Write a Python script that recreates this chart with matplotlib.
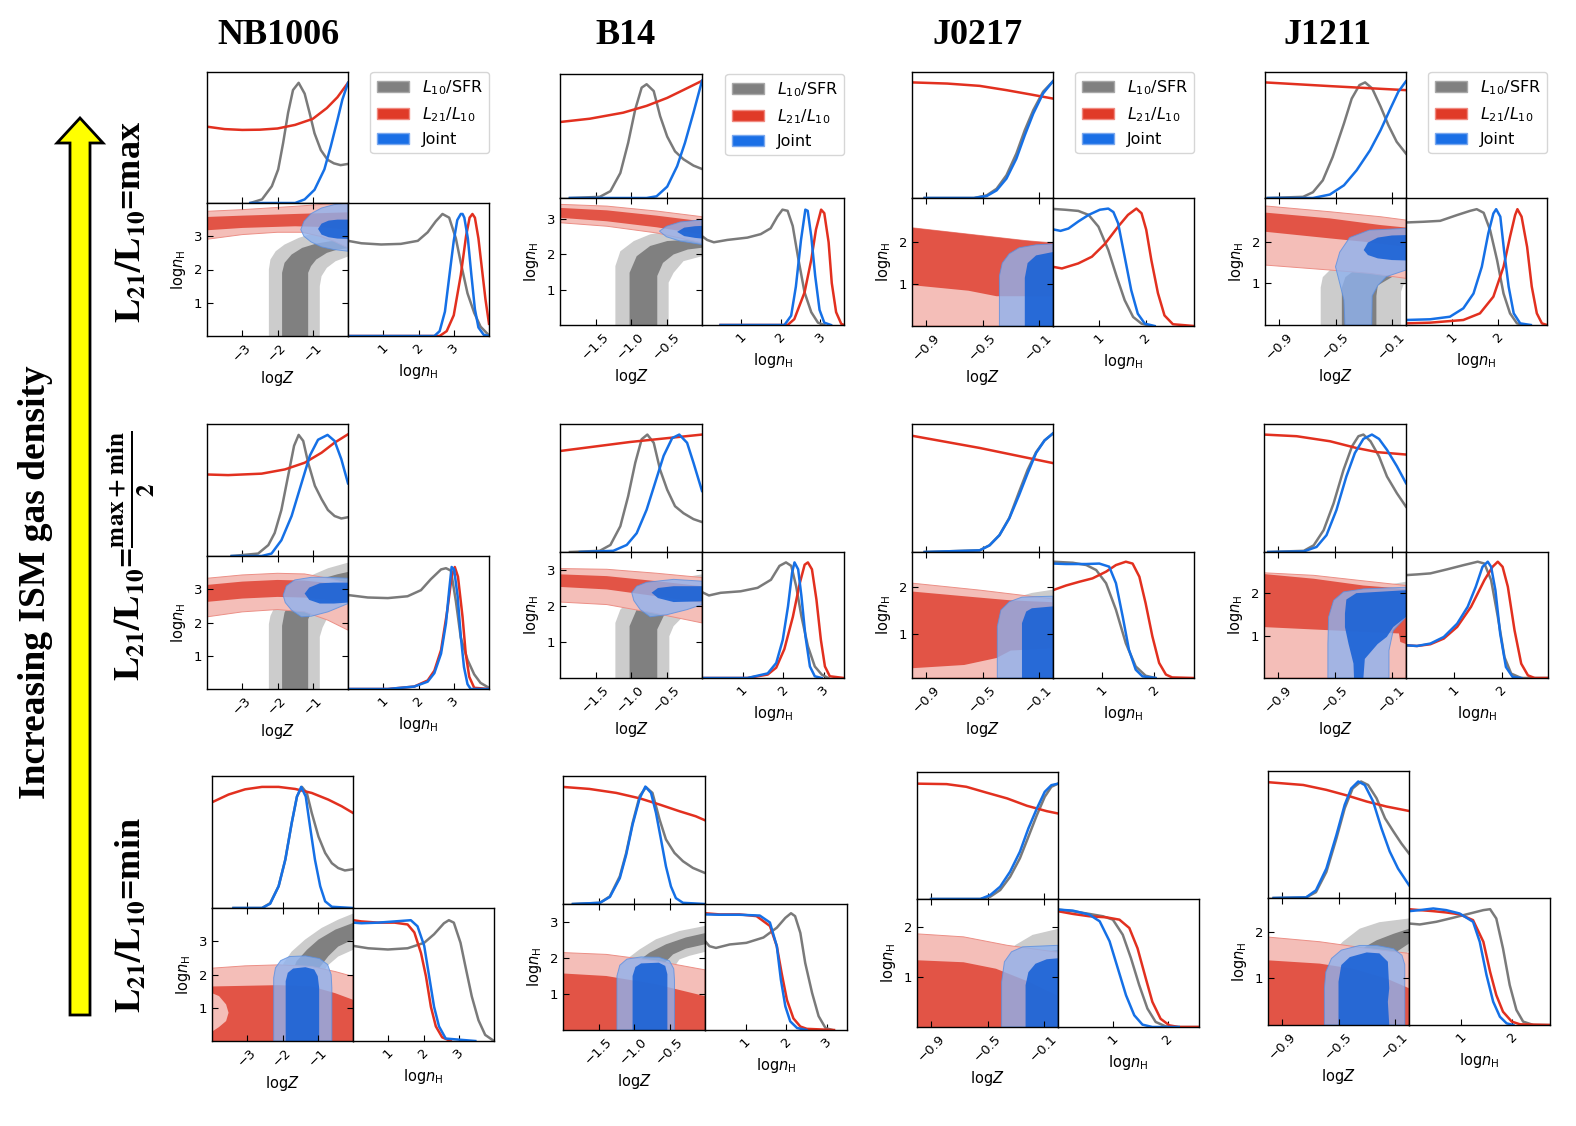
import matplotlib.pyplot as plt
from matplotlib.patches import Patch, FancyArrow

# ---------------- text ----------------
galaxies = ['NB1006', 'B14', 'J0217', 'J1211']
row_labels = [r'$\mathbf{L_{21}/L_{10}}$=max',
              r'$\mathbf{L_{21}/L_{10}}$=$\mathbf{\frac{max+min}{2}}$',
              r'$\mathbf{L_{21}/L_{10}}$=min']
legend_labels = ['$L_{10}$/SFR', '$L_{21}/L_{10}$', 'Joint']
side_text = 'Increasing ISM gas density'

# ---------------- axis ranges / ticks ----------------
z_lims = [(-4, 0), (-2, 0), (-1, 0), (-1, 0)]
z_ticks = [[-3, -2, -1], [-1.5, -1.0, -0.5], [-0.9, -0.5, -0.1], [-0.9, -0.5, -0.1]]
z_ticklabels = [['−3', '−2', '−1'], ['−1.5', '−1.0', '−0.5'],
                ['−0.9', '−0.5', '−0.1'], ['−0.9', '−0.5', '−0.1']]
n_ticks = [[1, 2, 3], [1, 2, 3], [1, 2], [1, 2]]
n_lims = [[(0, 4), (0, 3.6), (0.02, 3.03), (0, 3.05)],
          [(0, 4), (0, 3.5), (0.05, 2.76), (0, 2.97)],
          [(0, 4), (0, 3.5), (0, 2.57), (0, 2.73)]]

# ================= NB1006 =================
# max
nb_hi_zgray = [(-2.77,0),(-2.44,0.03),(-2.16,0.14),(-1.98,0.28),(-1.84,0.5),(-1.7,0.75),(-1.56,0.94),(-1.4,1.0),(-1.23,0.91),(-1.09,0.75),(-0.95,0.58),(-0.77,0.44),(-0.58,0.36),(-0.4,0.33),(-0.21,0.315),(0,0.325)]
nb_hi_zred = [(-4,0.635),(-3.5,0.615),(-3,0.608),(-2.5,0.61),(-2,0.62),(-1.5,0.65),(-1,0.70),(-0.6,0.79),(-0.3,0.88),(0,1.0)]
nb_hi_zblue = [(-2.77,0),(-1.5,0),(-1.23,0.03),(-0.95,0.11),(-0.67,0.28),(-0.49,0.47),(-0.3,0.69),(-0.16,0.86),(0,1.0)]
nb_hi_ngray = [(0,0.78),(0.38,0.76),(0.94,0.75),(1.5,0.755),(1.98,0.78),(2.26,0.85),(2.49,0.94),(2.68,1.0),(2.87,0.97),(3.06,0.8),(3.2,0.6),(3.39,0.35),(3.58,0.19),(3.76,0.077),(4.0,0.005)]
nb_hi_nred = [(0,0),(2.6,0),(2.8,0.04),(3.0,0.17),(3.2,0.5),(3.35,0.82),(3.45,0.97),(3.53,1.0),(3.6,0.97),(3.7,0.8),(3.8,0.55),(3.9,0.3),(4.0,0.1)]
nb_hi_nblue = [(0,0),(2.45,0),(2.6,0.04),(2.75,0.2),(2.9,0.55),(3.0,0.78),(3.1,0.95),(3.2,1.0),(3.25,1.0),(3.3,0.97),(3.4,0.8),(3.5,0.5),(3.6,0.22),(3.7,0.07),(3.85,0.01),(4.0,0)]
nb_hi_gray2 = [(-2.245,0),(-2.245,2.0),(-2.2,2.3),(-2.05,2.55),(-1.8,2.75),(-1.4,2.95),(-1.1,3.05),(-0.7,3.12),(-0.3,3.17),(0,3.2),(0,2.39),(-0.1,2.35),(-0.35,2.25),(-0.6,2.05),(-0.75,1.8),(-0.8,1.5),(-0.8,0)]
nb_hi_gray1 = [(-1.87,0),(-1.87,1.9),(-1.8,2.2),(-1.6,2.45),(-1.3,2.65),(-0.9,2.78),(-0.5,2.85),(0,2.88),(0,2.64),(-0.3,2.6),(-0.6,2.5),(-0.9,2.3),(-1.05,2.1),(-1.13,1.9),(-1.13,0)]
nb_hi_red2 = [(-4,3.75),(-3,3.8),(-1.5,3.9),(-0.57,3.97),(0,4.0),(0,2.65),(-0.4,2.85),(-0.8,3.0),(-1.3,3.12),(-2,3.12),(-3,3.05),(-4,2.91)]
nb_hi_red1 = [(-4,3.58),(-3,3.62),(-1.5,3.67),(0,3.72),(0,3.2),(-0.8,3.28),(-1.5,3.3),(-3,3.25),(-4,3.18)]
nb_hi_blue2 = [(-1.34,3.2),(-1.25,3.45),(-1.05,3.68),(-0.75,3.85),(-0.4,3.95),(0,4.0),(0,2.55),(-0.4,2.6),(-0.75,2.68),(-1.05,2.83),(-1.25,3.0)]
nb_hi_blue1 = [(-0.85,3.22),(-0.75,3.38),(-0.55,3.47),(-0.3,3.5),(0,3.5),(0,2.92),(-0.3,2.93),(-0.55,2.97),(-0.75,3.05)]
# (max+min)/2
nb_mid_zgray = [(-3.3,0),(-2.55,0.02),(-2.26,0.09),(-2.08,0.19),(-1.89,0.38),(-1.7,0.66),(-1.53,0.91),(-1.4,1.0),(-1.27,0.95),(-1.13,0.77),(-0.94,0.58),(-0.75,0.47),(-0.57,0.38),(-0.38,0.33),(-0.19,0.31),(0,0.32)]
nb_mid_zred = [(-4,0.673),(-3.4,0.668),(-2.45,0.68),(-1.79,0.715),(-1.23,0.77),(-0.75,0.853),(-0.38,0.936),(0,1.005)]
nb_mid_zblue = [(-3.3,0),(-2.45,0),(-2.17,0.02),(-1.89,0.13),(-1.6,0.33),(-1.32,0.6),(-1.08,0.83),(-0.85,0.96),(-0.58,1.0),(-0.38,0.95),(-0.19,0.8),(0,0.6)]
nb_mid_ngray = [(0,0.77),(0.56,0.75),(1.13,0.745),(1.69,0.76),(2.07,0.81),(2.35,0.9),(2.64,0.98),(2.78,0.99),(2.92,0.97),(3.06,0.72),(3.2,0.42),(3.39,0.24),(3.58,0.12),(3.76,0.05),(4.0,0.01)]
nb_mid_nred = [(0,0),(1.13,0),(1.88,0.02),(2.26,0.07),(2.45,0.15),(2.64,0.32),(2.82,0.65),(2.94,0.92),(3.03,1.0),(3.12,0.92),(3.25,0.59),(3.34,0.29),(3.44,0.1),(3.58,0.01),(4.0,0)]
nb_mid_nblue = [(0,0),(1.13,0),(1.88,0.02),(2.26,0.06),(2.45,0.13),(2.64,0.29),(2.78,0.54),(2.87,0.81),(2.94,1.0),(3.01,0.98),(3.11,0.76),(3.2,0.43),(3.29,0.18),(3.39,0.04),(3.48,0),(4.0,0)]
nb_mid_gray2 = [(-2.245,0),(-2.245,1.95),(-2.2,2.2),(-2.08,2.47),(-1.9,2.72),(-1.7,2.97),(-1.23,3.33),(-0.57,3.63),(0,3.8),(0,2.62),(-0.28,2.47),(-0.57,2.17),(-0.72,1.85),(-0.8,1.57),(-0.8,0)]
nb_mid_gray1 = [(-1.87,0),(-1.87,1.9),(-1.8,2.3),(-1.6,2.7),(-1.3,3.0),(-0.8,3.3),(-0.3,3.45),(0,3.52),(0,3.2),(-0.57,3.0),(-0.95,2.5),(-1.13,2.1),(-1.13,0)]
nb_mid_red2 = [(-4,3.33),(-3,3.43),(-2,3.48),(-1.23,3.46),(-0.57,3.33),(0,3.18),(0,1.77),(-0.57,2.07),(-1.23,2.32),(-2,2.39),(-3,2.32),(-4,2.17)]
nb_mid_red1 = [(-4,3.13),(-3,3.23),(-2,3.28),(-1.23,3.26),(0,3.13),(0,2.62),(-1.23,2.75),(-2,2.77),(-3,2.72),(-4,2.62)]
nb_mid_blue2 = [(-1.84,2.82),(-1.75,3.1),(-1.51,3.28),(-1.04,3.36),(-0.57,3.36),(0,3.33),(0,2.57),(-0.57,2.32),(-1.04,2.19),(-1.32,2.17),(-1.6,2.37),(-1.78,2.6)]
nb_mid_blue1 = [(-1.23,2.87),(-1.1,3.05),(-0.8,3.18),(-0.4,3.2),(0,3.2),(0,2.6),(-0.4,2.57),(-0.8,2.57),(-1.1,2.68)]
# min
nb_lo_zgray = [(-3.39,0),(-2.58,0),(-2.35,0.04),(-2.11,0.18),(-1.92,0.4),(-1.74,0.7),(-1.59,0.92),(-1.45,1.0),(-1.31,0.95),(-1.17,0.785),(-0.98,0.59),(-0.79,0.455),(-0.6,0.37),(-0.42,0.33),(-0.23,0.31),(0,0.32)]
nb_lo_zred = [(-4,0.873),(-3.53,0.937),(-3.06,0.98),(-2.58,1.0),(-2.11,1.0),(-1.64,0.983),(-1.17,0.95),(-0.7,0.895),(-0.32,0.84),(0,0.785)]
nb_lo_zblue = [(-3.39,0),(-2.58,0),(-2.35,0.035),(-2.11,0.18),(-1.92,0.4),(-1.74,0.7),(-1.59,0.92),(-1.47,1.0),(-1.34,0.92),(-1.22,0.675),(-1.08,0.4),(-0.93,0.18),(-0.79,0.055),(-0.6,0.01),(0,0)]
nb_lo_ngray = [(0,0.78),(0.43,0.76),(0.99,0.75),(1.55,0.76),(2.02,0.805),(2.3,0.875),(2.58,0.965),(2.72,0.99),(2.86,0.97),(3.05,0.805),(3.19,0.61),(3.37,0.365),(3.56,0.17),(3.75,0.05),(4.0,0)]
nb_lo_nred = [(0,0.99),(0.24,0.98),(0.71,0.97),(1.18,0.97),(1.55,0.955),(1.74,0.89),(1.93,0.72),(2.07,0.53),(2.21,0.28),(2.35,0.12),(2.53,0.03),(2.77,0)]
nb_lo_nblue = [(0,0.97),(0.24,0.965),(0.71,0.97),(1.18,0.98),(1.64,0.99),(1.83,0.94),(2.02,0.78),(2.16,0.53),(2.3,0.28),(2.44,0.12),(2.63,0.02),(3.47,0)]
nb_lo_gray2 = [(-2.05,0),(-2.05,2.0),(-1.97,2.34),(-1.74,2.69),(-1.36,3.05),(-0.89,3.4),(-0.42,3.65),(0,3.83),(0,2.74),(-0.42,2.54),(-0.75,2.24),(-0.9,1.9),(-0.95,1.5),(-0.95,0)]
nb_lo_gray1 = [(-1.75,0),(-1.75,2.0),(-1.6,2.4),(-1.3,2.75),(-0.98,3.05),(-0.5,3.35),(0,3.55),(0,3.05),(-0.42,2.84),(-0.7,2.55),(-1.1,2.0),(-1.2,1.5),(-1.2,0)]
nb_lo_red2 = [(-4,0),(-4,2.19),(-3.06,2.26),(-2.11,2.29),(-1.17,2.24),(-0.51,2.09),(0,1.94),(0,0)]
nb_lo_red1 = [(-4,0),(-4,0.28),(-3.8,0.42),(-3.6,0.6),(-3.53,0.85),(-3.6,1.1),(-3.8,1.35),(-4,1.44),(-4,1.64),(-3.06,1.66),(-2.11,1.68),(-1.17,1.64),(-0.51,1.44),(0,1.24),(0,0)]
nb_lo_blue2 = [(-2.25,0),(-2.25,1.9),(-2.2,2.2),(-2.05,2.42),(-1.8,2.54),(-1.35,2.56),(-0.95,2.48),(-0.72,2.3),(-0.62,2.0),(-0.6,1.6),(-0.6,0)]
nb_lo_blue1 = [(-1.91,0),(-1.91,1.8),(-1.85,2.05),(-1.7,2.18),(-1.35,2.22),(-1.1,2.15),(-1.0,1.95),(-0.96,1.6),(-0.96,0)]

# ================= B14 =================
b14_hi_zgray = [(-1.86,0),(-1.44,0.01),(-1.29,0.06),(-1.15,0.22),(-1.04,0.485),(-0.94,0.78),(-0.85,0.97),(-0.78,1.0),(-0.68,0.94),(-0.59,0.72),(-0.49,0.54),(-0.38,0.41),(-0.26,0.34),(-0.12,0.285),(0,0.255)]
b14_hi_zred = [(-2,0.668),(-1.58,0.697),(-1.11,0.75),(-0.78,0.81),(-0.49,0.88),(-0.26,0.95),(0,1.03)]
b14_hi_zblue = [(-1.86,0),(-0.78,0),(-0.64,0.015),(-0.49,0.1),(-0.35,0.28),(-0.24,0.485),(-0.12,0.75),(0,1.03)]
b14_hi_ngray = [(0,0.763),(0.13,0.73),(0.3,0.71),(0.64,0.73),(1.15,0.75),(1.49,0.78),(1.74,0.83),(1.91,0.93),(2.04,0.99),(2.17,0.98),(2.3,0.85),(2.43,0.59),(2.6,0.28),(2.77,0.11),(2.94,0.02),(3.1,0)]
b14_hi_nred = [(0.47,0),(2.17,0),(2.34,0.05),(2.6,0.28),(2.77,0.56),(2.89,0.82),(3.02,0.99),(3.1,0.96),(3.21,0.71),(3.29,0.36),(3.4,0.11),(3.53,0.01),(3.6,0)]
b14_hi_nblue = [(0.47,0),(2.09,0),(2.26,0.08),(2.38,0.33),(2.51,0.73),(2.62,0.99),(2.68,0.98),(2.77,0.76),(2.87,0.42),(2.98,0.13),(3.1,0.02),(3.27,0)]
b14_hi_gray2 = [(-1.22,0),(-1.22,1.67),(-1.15,2.09),(-0.96,2.38),(-0.73,2.57),(-0.49,2.66),(0,2.72),(0,1.95),(-0.26,1.81),(-0.4,1.48),(-0.47,1.2),(-0.47,0)]
b14_hi_gray1 = [(-1.02,0),(-1.02,1.48),(-0.92,1.95),(-0.73,2.24),(-0.49,2.38),(0,2.44),(0,2.19),(-0.2,2.14),(-0.4,2.0),(-0.55,1.76),(-0.63,1.39),(-0.63,0)]
b14_hi_red2 = [(-2,3.42),(-1.34,3.37),(-0.64,3.23),(0,3.07),(0,2.33),(-0.64,2.61),(-1.34,2.8),(-2,2.9)]
b14_hi_red1 = [(-2,3.32),(-1.34,3.25),(-0.64,3.1),(0,2.94),(0,2.57),(-0.64,2.77),(-1.34,2.94),(-2,3.04)]
b14_hi_blue2 = [(-0.6,2.66),(-0.5,2.8),(-0.31,2.92),(0,2.98),(0,2.28),(-0.31,2.38),(-0.5,2.5)]
b14_hi_blue1 = [(-0.35,2.64),(-0.25,2.76),(-0.1,2.8),(0,2.81),(0,2.45),(-0.1,2.47),(-0.25,2.52)]

b14_mid_zgray = [(-1.86,0),(-1.44,0.01),(-1.29,0.06),(-1.15,0.22),(-1.04,0.475),(-0.94,0.76),(-0.85,0.96),(-0.77,1.0),(-0.68,0.93),(-0.59,0.7),(-0.49,0.53),(-0.38,0.39),(-0.26,0.33),(-0.12,0.28),(0,0.255)]
b14_mid_zred = [(-2,0.86),(-1.01,0.937),(0,1.0)]
b14_mid_zblue = [(-1.72,0),(-1.25,0.01),(-1.06,0.06),(-0.92,0.16),(-0.78,0.36),(-0.66,0.59),(-0.54,0.82),(-0.42,0.97),(-0.32,1.0),(-0.21,0.93),(-0.12,0.76),(-0.05,0.62),(0,0.52)]
b14_mid_ngray = [(0,0.743),(0.17,0.714),(0.46,0.737),(0.95,0.75),(1.37,0.78),(1.7,0.85),(1.91,0.97),(2.07,1.0),(2.2,0.97),(2.32,0.795),(2.45,0.535),(2.61,0.275),(2.78,0.1),(2.95,0.03),(3.11,0)]
b14_mid_nred = [(0,0),(1.12,0),(1.62,0.03),(1.83,0.09),(2.03,0.25),(2.24,0.53),(2.41,0.82),(2.53,0.98),(2.61,1.0),(2.71,0.94),(2.82,0.68),(2.93,0.33),(3.03,0.1),(3.15,0.015),(3.5,0)]
b14_mid_nblue = [(0,0),(1.12,0),(1.62,0.04),(1.83,0.13),(1.99,0.33),(2.12,0.62),(2.22,0.91),(2.28,1.0),(2.37,0.94),(2.45,0.71),(2.55,0.36),(2.66,0.1),(2.78,0.015),(2.95,0)]
b14_mid_gray2 = [(-1.22,0),(-1.22,1.53),(-1.15,1.9),(-0.96,2.27),(-0.73,2.55),(-0.4,2.74),(0,2.88),(0,1.86),(-0.26,1.72),(-0.4,1.44),(-0.46,1.16),(-0.46,0)]
b14_mid_gray1 = [(-1.02,0),(-1.02,1.44),(-0.92,1.9),(-0.73,2.18),(-0.4,2.41),(0,2.55),(0,2.11),(-0.21,2.04),(-0.4,1.9),(-0.54,1.72),(-0.63,1.35),(-0.63,0)]
b14_mid_red2 = [(-2,3.04),(-1.34,3.02),(-0.64,2.91),(0,2.79),(0,1.53),(-0.64,1.79),(-1.34,2.04),(-2,2.11)]
b14_mid_red1 = [(-2,2.88),(-1.34,2.83),(-0.64,2.69),(0,2.55),(0,2.09),(-0.64,2.27),(-1.34,2.46),(-2,2.53)]
b14_mid_blue2 = [(-0.99,2.37),(-0.92,2.55),(-0.78,2.66),(-0.4,2.74),(0,2.69),(0,2.04),(-0.21,1.9),(-0.49,1.76),(-0.73,1.7),(-0.87,1.9),(-0.96,2.15)]
b14_mid_blue1 = [(-0.71,2.37),(-0.62,2.5),(-0.4,2.55),(0,2.55),(0,2.13),(-0.4,2.11),(-0.62,2.22)]

b14_lo_zgray = [(-1.86,0),(-1.48,0.01),(-1.34,0.065),(-1.2,0.236),(-1.11,0.435),(-1.02,0.69),(-0.92,0.92),(-0.83,0.994),(-0.74,0.946),(-0.64,0.72),(-0.55,0.55),(-0.43,0.435),(-0.31,0.364),(-0.17,0.307),(0,0.264)]
b14_lo_zred = [(-2,0.997),(-1.63,0.98),(-1.25,0.946),(-0.92,0.9),(-0.64,0.847),(-0.36,0.79),(-0.13,0.747),(0,0.713)]
b14_lo_zblue = [(-1.86,0),(-1.48,0.01),(-1.34,0.06),(-1.2,0.22),(-1.11,0.42),(-1.02,0.676),(-0.92,0.9),(-0.84,1.0),(-0.76,0.946),(-0.69,0.775),(-0.62,0.55),(-0.55,0.32),(-0.48,0.15),(-0.41,0.05),(-0.31,0.01),(0,0)]
b14_lo_ngray = [(0,0.77),(0.11,0.725),(0.27,0.71),(0.61,0.74),(1.02,0.754),(1.44,0.8),(1.77,0.885),(1.98,0.97),(2.12,1.01),(2.22,0.985),(2.35,0.84),(2.47,0.58),(2.64,0.32),(2.8,0.12),(2.97,0.017),(3.14,0)]
b14_lo_nred = [(0,1.01),(0.36,1.0),(0.85,1.0),(1.27,0.985),(1.6,0.9),(1.77,0.725),(1.89,0.49),(2.02,0.26),(2.18,0.1),(2.35,0.03),(2.51,0.01),(3.18,0)]
b14_lo_nblue = [(0,1.0),(0.36,0.997),(0.85,0.997),(1.35,0.99),(1.6,0.93),(1.77,0.725),(1.87,0.436),(1.98,0.205),(2.1,0.075),(2.27,0.017),(2.5,0)]
b14_lo_gray2 = [(-1.22,0),(-1.22,1.6),(-1.15,1.9),(-1.04,2.06),(-0.92,2.24),(-0.69,2.52),(-0.36,2.75),(0,2.89),(0,2.17),(-0.22,2.06),(-0.36,1.96),(-0.45,1.7),(-0.47,1.3),(-0.47,0)]
b14_lo_gray1 = [(-1.02,0),(-1.02,1.6),(-0.95,1.9),(-0.78,2.15),(-0.55,2.38),(-0.27,2.57),(0,2.69),(0,2.38),(-0.27,2.26),(-0.45,2.1),(-0.6,1.8),(-0.63,1.4),(-0.63,0)]
b14_lo_red2 = [(-2,0),(-2,2.15),(-1.39,2.1),(-0.69,1.92),(0,1.67),(0,0)]
b14_lo_red1 = [(-2,0),(-2,1.57),(-1.39,1.5),(-0.69,1.27),(0,0.94),(0,0)]
b14_lo_blue2 = [(-1.24,0),(-1.24,1.5),(-1.2,1.8),(-1.1,1.97),(-0.9,2.03),(-0.65,2.02),(-0.5,1.92),(-0.44,1.7),(-0.43,1.4),(-0.43,0)]
b14_lo_blue1 = [(-1.02,0),(-1.02,1.5),(-0.98,1.75),(-0.9,1.85),(-0.65,1.87),(-0.56,1.78),(-0.53,1.55),(-0.53,0)]

# ================= J0217 =================
j02_hi_zgray = [(-0.91,0),(-0.56,0),(-0.47,0.023),(-0.4,0.08),(-0.33,0.197),(-0.26,0.384),(-0.2,0.587),(-0.14,0.76),(-0.07,0.92),(0,1.01)]
j02_hi_zred = [(-1,1.0),(-0.75,0.99),(-0.52,0.97),(-0.33,0.933),(-0.16,0.896),(0,0.86)]
j02_hi_zblue = [(-0.91,0),(-0.56,0),(-0.47,0.017),(-0.4,0.066),(-0.33,0.168),(-0.26,0.34),(-0.2,0.543),(-0.14,0.73),(-0.07,0.905),(0,1.01)]
j02_hi_ngray = [(0.02,0.997),(0.28,0.99),(0.56,0.98),(0.78,0.946),(0.99,0.846),(1.2,0.647),(1.38,0.42),(1.55,0.22),(1.73,0.077),(1.91,0.02),(2.12,0)]
j02_hi_nred = [(0.02,0.504),(0.21,0.49),(0.56,0.533),(0.85,0.59),(1.13,0.7),(1.41,0.846),(1.62,0.946),(1.8,1.0),(1.91,0.96),(2.01,0.82),(2.12,0.56),(2.26,0.28),(2.4,0.09),(2.58,0.015),(3.03,0)]
j02_hi_nblue = [(0.02,0.823),(0.18,0.81),(0.35,0.83),(0.56,0.89),(0.78,0.946),(1.02,0.99),(1.2,1.0),(1.31,0.97),(1.41,0.875),(1.55,0.59),(1.69,0.305),(1.83,0.105),(1.98,0.02),(2.19,0)]
j02_hi_gray2 = [(-0.4,0.02),(-0.4,1.5),(-0.36,1.8),(-0.28,1.95),(-0.1,2.0),(0,2.0),(0,0.02)]
j02_hi_gray1 = [(-0.21,0.02),(-0.21,1.2),(-0.19,1.5),(-0.13,1.7),(0,1.8),(0,0.02)]
j02_hi_red2 = [(-1,0.02),(-1,2.33),(-0.6,2.18),(-0.2,2.03),(0,1.97),(0,0.02)]
j02_hi_red1 = [(-1,2.33),(-0.6,2.18),(-0.2,2.03),(0,1.97),(0,0.72),(-0.4,0.72),(-0.6,0.85),(-1,0.98)]
j02_hi_blue2 = [(-0.38,0.02),(-0.38,1.2),(-0.36,1.5),(-0.31,1.72),(-0.24,1.86),(-0.12,1.93),(0,1.95),(0,0.02)]
j02_hi_blue1 = [(-0.2,0.02),(-0.2,1.15),(-0.18,1.5),(-0.12,1.68),(0,1.76),(0,0.02)]

j02_mid_zgray = [(-0.91,0),(-0.52,0.014),(-0.45,0.057),(-0.38,0.143),(-0.31,0.29),(-0.24,0.514),(-0.18,0.70),(-0.12,0.85),(-0.06,0.95),(0,1.01)]
j02_mid_zred = [(-1,0.99),(-0.52,0.886),(0,0.757)]
j02_mid_zblue = [(-0.91,0),(-0.52,0.014),(-0.45,0.057),(-0.38,0.143),(-0.31,0.286),(-0.24,0.486),(-0.18,0.67),(-0.12,0.843),(-0.06,0.95),(0,1.01)]
j02_mid_ngray = [(0.05,1.006),(0.43,0.997),(0.69,0.977),(0.88,0.934),(1.07,0.82),(1.26,0.59),(1.45,0.3),(1.64,0.1),(1.83,0.02),(2.02,0)]
j02_mid_nred = [(0.05,0.76),(0.3,0.8),(0.56,0.833),(0.81,0.862),(1.07,0.92),(1.26,0.977),(1.45,1.006),(1.58,0.99),(1.71,0.876),(1.83,0.647),(1.96,0.36),(2.09,0.13),(2.22,0.03),(2.34,0.005),(2.76,0)]
j02_mid_nblue = [(0.05,0.99),(0.3,0.986),(0.69,0.986),(0.94,0.99),(1.13,0.963),(1.26,0.82),(1.39,0.53),(1.51,0.244),(1.64,0.072),(1.77,0.014),(2.02,0)]
j02_mid_gray2 = [(-0.41,0.05),(-0.41,1.3),(-0.38,1.55),(-0.3,1.75),(-0.15,1.88),(0,1.95),(0,0.05)]
j02_mid_gray1 = [(-0.23,0.05),(-0.23,1.2),(-0.2,1.45),(-0.12,1.6),(0,1.65),(0,0.05)]
j02_mid_red2 = [(-1,0.05),(-1,2.09),(-0.52,1.94),(0,1.75),(0,0.05)]
j02_mid_red1 = [(-1,1.91),(-0.6,1.8),(-0.3,1.72),(0,1.68),(0,0.69),(-0.3,0.64),(-0.4,0.48),(-0.63,0.33),(-1,0.26)]
j02_mid_blue2 = [(-0.395,0.05),(-0.395,1.16),(-0.37,1.51),(-0.31,1.69),(-0.22,1.79),(0,1.81),(0,0.05)]
j02_mid_blue1 = [(-0.22,0.05),(-0.22,1.23),(-0.19,1.48),(-0.15,1.55),(0,1.59),(0,0.05)]

j02_lo_zgray = [(-0.9,0),(-0.55,0),(-0.48,0.02),(-0.41,0.077),(-0.34,0.19),(-0.27,0.35),(-0.21,0.534),(-0.15,0.72),(-0.094,0.877),(-0.047,0.963),(0,0.99)]
j02_lo_zred = [(-1,0.99),(-0.79,0.986),(-0.65,0.963),(-0.51,0.914),(-0.36,0.863),(-0.22,0.8),(-0.08,0.754),(0,0.734)]
j02_lo_zblue = [(-0.9,0),(-0.55,0),(-0.48,0.034),(-0.41,0.106),(-0.34,0.234),(-0.27,0.406),(-0.21,0.606),(-0.15,0.777),(-0.094,0.92),(-0.047,0.977),(0,0.99)]
j02_lo_ngray = [(0,1.0),(0.27,0.986),(0.57,0.963),(0.82,0.943),(1.0,0.914),(1.18,0.786),(1.33,0.586),(1.48,0.357),(1.63,0.157),(1.78,0.043),(1.96,0.006),(2.2,0),(2.57,0)]
j02_lo_nred = [(0,0.986),(0.27,0.963),(0.57,0.943),(0.88,0.934),(1.12,0.914),(1.3,0.843),(1.45,0.67),(1.6,0.414),(1.72,0.214),(1.87,0.07),(2.03,0.014),(2.2,0),(2.57,0)]
j02_lo_nblue = [(0,1.0),(0.27,0.991),(0.57,0.957),(0.76,0.9),(0.94,0.73),(1.09,0.5),(1.24,0.27),(1.39,0.1),(1.54,0.02),(1.72,0),(2.2,0)]
j02_lo_gray2 = [(-0.42,0),(-0.42,1.2),(-0.38,1.45),(-0.3,1.65),(-0.18,1.85),(0,1.97),(0,0)]
j02_lo_gray1 = [(-0.25,0),(-0.25,1.0),(-0.2,1.3),(-0.1,1.5),(0,1.55),(0,0)]
j02_lo_red2 = [(-1,0),(-1,1.87),(-0.67,1.81),(-0.36,1.64),(0,1.5),(0,0)]
j02_lo_red1 = [(-1,0),(-1,1.34),(-0.67,1.3),(-0.44,1.17),(-0.2,0.9),(0,0.62),(0,0)]
j02_lo_blue2 = [(-0.4,0),(-0.4,0.9),(-0.38,1.31),(-0.33,1.51),(-0.25,1.61),(0,1.64),(0,0)]
j02_lo_blue1 = [(-0.23,0),(-0.23,0.84),(-0.21,1.1),(-0.16,1.27),(-0.08,1.36),(0,1.38),(0,0)]

# ================= J1211 =================
j12_hi_zgray = [(-0.98,0),(-0.73,0.01),(-0.66,0.05),(-0.59,0.153),(-0.52,0.355),(-0.44,0.645),(-0.385,0.86),(-0.33,0.977),(-0.29,1.0),(-0.24,0.948),(-0.18,0.79),(-0.125,0.63),(-0.066,0.486),(0,0.384)]
j12_hi_zred = [(-1,1.0),(-0.54,0.968),(0,0.933)]
j12_hi_zblue = [(-0.98,0),(-0.66,0),(-0.54,0.03),(-0.44,0.11),(-0.35,0.24),(-0.255,0.413),(-0.18,0.587),(-0.11,0.775),(-0.054,0.92),(0,1.01)]
j12_hi_ngray = [(0,0.88),(0.38,0.886),(0.74,0.894),(1.1,0.943),(1.39,0.98),(1.53,0.994),(1.68,0.963),(1.82,0.814),(1.97,0.557),(2.11,0.27),(2.25,0.1),(2.4,0.014),(2.55,0)]
j12_hi_nred = [(0,0.014),(0.52,0.02),(1.24,0.043),(1.6,0.1),(1.89,0.243),(2.11,0.5),(2.25,0.757),(2.36,0.943),(2.41,0.994),(2.5,0.93),(2.62,0.67),(2.72,0.33),(2.83,0.1),(2.94,0.014),(3.05,0)]
j12_hi_nblue = [(0,0.043),(0.52,0.049),(0.95,0.071),(1.24,0.143),(1.46,0.27),(1.64,0.5),(1.78,0.786),(1.89,0.957),(1.95,0.994),(2.04,0.93),(2.12,0.643),(2.22,0.33),(2.33,0.1),(2.47,0.014),(2.7,0)]
j12_hi_gray2 = [(-0.605,0),(-0.605,0.9),(-0.59,1.15),(-0.53,1.35),(-0.4,1.55),(-0.2,1.75),(0,1.85),(0,1.0),(-0.02,0.95),(-0.035,0.8),(-0.035,0)]
j12_hi_gray1 = [(-0.455,0),(-0.455,0.9),(-0.43,1.15),(-0.35,1.35),(-0.2,1.5),(0,1.6),(0,1.25),(-0.1,1.15),(-0.2,0.95),(-0.21,0.7),(-0.21,0)]
j12_hi_red2 = [(-1,2.86),(-0.54,2.72),(-0.18,2.6),(0,2.52),(0,1.12),(-0.26,1.24),(-0.54,1.32),(-1,1.44)]
j12_hi_red1 = [(-1,2.7),(-0.54,2.56),(-0.18,2.4),(0,2.34),(0,1.88),(-0.3,2.0),(-0.54,2.08),(-1,2.24)]
j12_hi_blue2 = [(-0.433,0),(-0.44,0.6),(-0.47,1.0),(-0.5,1.4),(-0.47,1.75),(-0.4,2.1),(-0.26,2.28),(0,2.32),(0,1.32),(-0.14,1.16),(-0.2,0.95),(-0.24,0.7),(-0.243,0)]
j12_hi_blue1 = [(-0.3,1.8),(-0.27,1.98),(-0.2,2.1),(-0.1,2.15),(0,2.16),(0,1.55),(-0.1,1.56),(-0.2,1.6),(-0.27,1.68)]

j12_mid_zgray = [(-0.97,0),(-0.72,0.01),(-0.65,0.057),(-0.58,0.186),(-0.51,0.414),(-0.44,0.7),(-0.38,0.9),(-0.335,0.986),(-0.3,1.0),(-0.25,0.943),(-0.19,0.814),(-0.134,0.643),(-0.064,0.5),(0,0.386)]
j12_mid_zred = [(-1,1.0),(-0.77,0.986),(-0.535,0.943),(-0.35,0.886),(-0.2,0.85),(0,0.83)]
j12_mid_zblue = [(-0.97,0),(-0.72,0.005),(-0.63,0.043),(-0.56,0.143),(-0.49,0.357),(-0.42,0.643),(-0.36,0.843),(-0.3,0.963),(-0.24,1.0),(-0.19,0.963),(-0.134,0.87),(-0.064,0.73),(0,0.586)]
j12_mid_ngray = [(0,0.89),(0.23,0.896),(0.51,0.905),(0.86,0.94),(1.21,0.977),(1.5,1.006),(1.64,0.99),(1.78,0.847),(1.92,0.53),(2.06,0.18),(2.2,0.038),(2.41,0),(2.97,0)]
j12_mid_nred = [(0,0.283),(0.23,0.277),(0.51,0.292),(0.79,0.341),(1.07,0.442),(1.36,0.616),(1.64,0.847),(1.81,0.962),(1.92,1.006),(2.02,0.962),(2.13,0.79),(2.27,0.413),(2.41,0.124),(2.55,0.023),(2.69,0),(2.97,0)]
j12_mid_nblue = [(0,0.283),(0.23,0.277),(0.51,0.298),(0.79,0.355),(1.07,0.47),(1.29,0.616),(1.46,0.79),(1.6,0.962),(1.71,1.006),(1.78,0.962),(1.87,0.76),(1.97,0.384),(2.09,0.095),(2.23,0.009),(2.41,0)]
j12_mid_gray2 = [(-0.6,0),(-0.6,1.2),(-0.57,1.55),(-0.48,1.85),(-0.3,2.1),(0,2.27),(0,1.4),(-0.02,1.3),(-0.05,1.1),(-0.05,0)]
j12_mid_gray1 = [(-0.47,0),(-0.47,1.2),(-0.44,1.5),(-0.35,1.75),(-0.2,1.95),(0,2.05),(0,1.75),(-0.12,1.6),(-0.2,1.35),(-0.22,1.0),(-0.22,0)]
j12_mid_red2 = [(-1,0),(-1,2.48),(-0.65,2.42),(-0.3,2.29),(0,2.18),(0,0)]
j12_mid_red1 = [(-1,2.45),(-0.65,2.34),(-0.3,2.18),(0,2.1),(0,0.8),(-0.04,0.85),(-0.05,1.05),(-0.5,1.12),(-1,1.2)]
j12_mid_blue2 = [(-0.55,0),(-0.55,0.8),(-0.545,1.44),(-0.51,1.83),(-0.44,2.03),(-0.3,2.1),(0,2.14),(0,1.44),(-0.09,1.12),(-0.12,0.65),(-0.12,0)]
j12_mid_blue1 = [(-0.366,0),(-0.37,0.34),(-0.405,0.81),(-0.43,1.2),(-0.43,1.52),(-0.42,1.85),(-0.35,2.0),(0,2.07),(0,1.44),(-0.09,1.2),(-0.135,0.97),(-0.2,0.8),(-0.29,0.45),(-0.3,0)]

j12_lo_zgray = [(-0.96,0),(-0.73,0.005),(-0.66,0.05),(-0.586,0.224),(-0.515,0.51),(-0.456,0.77),(-0.4,0.94),(-0.34,1.0),(-0.29,0.97),(-0.23,0.856),(-0.17,0.684),(-0.11,0.57),(-0.054,0.468),(0,0.382)]
j12_lo_zred = [(-1,0.994),(-0.75,0.97),(-0.586,0.928),(-0.44,0.88),(-0.3,0.828),(-0.16,0.785),(0,0.747)]
j12_lo_zblue = [(-0.96,0),(-0.73,0.005),(-0.66,0.066),(-0.586,0.253),(-0.515,0.54),(-0.456,0.8),(-0.41,0.94),(-0.36,1.0),(-0.314,0.97),(-0.255,0.83),(-0.196,0.6),(-0.137,0.4),(-0.078,0.253),(0,0.11)]
j12_lo_ngray = [(0,0.871),(0.21,0.863),(0.53,0.886),(0.85,0.92),(1.18,0.957),(1.44,0.986),(1.57,0.994),(1.69,0.914),(1.82,0.657),(1.95,0.343),(2.08,0.129),(2.21,0.029),(2.41,0),(2.73,0)]
j12_lo_nred = [(0,0.994),(0.21,0.986),(0.47,0.977),(0.72,0.966),(0.98,0.95),(1.24,0.9),(1.44,0.714),(1.57,0.457),(1.69,0.257),(1.82,0.114),(1.99,0.029),(2.15,0.006),(2.73,0)]
j12_lo_nblue = [(0,0.977),(0.21,0.986),(0.47,1.0),(0.72,0.986),(0.98,0.957),(1.24,0.886),(1.37,0.714),(1.5,0.43),(1.63,0.2),(1.76,0.071),(1.89,0.014),(2.02,0)]
j12_lo_gray2 = [(-0.6,0),(-0.6,1.2),(-0.56,1.5),(-0.47,1.79),(-0.35,2.07),(-0.21,2.21),(0,2.29),(0,1.6),(-0.05,1.4),(-0.07,1.1),(-0.07,0)]
j12_lo_gray1 = [(-0.45,0),(-0.45,1.2),(-0.4,1.5),(-0.3,1.7),(-0.23,1.82),(-0.11,1.96),(0,2.07),(0,1.75),(-0.1,1.55),(-0.17,1.3),(-0.2,1.0),(-0.2,0)]
j12_lo_red2 = [(-1,0),(-1,1.89),(-0.634,1.79),(-0.28,1.64),(0,1.54),(0,0)]
j12_lo_red1 = [(-1,0),(-1,1.39),(-0.634,1.32),(-0.4,1.21),(-0.16,1.0),(0,0.79),(0,0)]
j12_lo_blue2 = [(-0.6,0),(-0.6,0.79),(-0.59,1.14),(-0.55,1.43),(-0.48,1.61),(-0.35,1.71),(-0.23,1.71),(-0.11,1.64),(-0.05,1.5),(-0.03,1.3),(-0.03,0)]
j12_lo_blue1 = [(-0.5,0),(-0.5,0.93),(-0.48,1.29),(-0.42,1.46),(-0.3,1.56),(-0.21,1.54),(-0.15,1.36),(-0.14,0.79),(-0.15,0.5),(-0.14,0)]

# table per (row, column) built from the arrays above
cells = {
    (0, 0): ((nb_hi_zgray, nb_hi_zred, nb_hi_zblue), (nb_hi_ngray, nb_hi_nred, nb_hi_nblue),
             (nb_hi_gray2, nb_hi_gray1, nb_hi_red2, nb_hi_red1, nb_hi_blue2, nb_hi_blue1)),
    (1, 0): ((nb_mid_zgray, nb_mid_zred, nb_mid_zblue), (nb_mid_ngray, nb_mid_nred, nb_mid_nblue),
             (nb_mid_gray2, nb_mid_gray1, nb_mid_red2, nb_mid_red1, nb_mid_blue2, nb_mid_blue1)),
    (2, 0): ((nb_lo_zgray, nb_lo_zred, nb_lo_zblue), (nb_lo_ngray, nb_lo_nred, nb_lo_nblue),
             (nb_lo_gray2, nb_lo_gray1, nb_lo_red2, nb_lo_red1, nb_lo_blue2, nb_lo_blue1)),
    (0, 1): ((b14_hi_zgray, b14_hi_zred, b14_hi_zblue), (b14_hi_ngray, b14_hi_nred, b14_hi_nblue),
             (b14_hi_gray2, b14_hi_gray1, b14_hi_red2, b14_hi_red1, b14_hi_blue2, b14_hi_blue1)),
    (1, 1): ((b14_mid_zgray, b14_mid_zred, b14_mid_zblue), (b14_mid_ngray, b14_mid_nred, b14_mid_nblue),
             (b14_mid_gray2, b14_mid_gray1, b14_mid_red2, b14_mid_red1, b14_mid_blue2, b14_mid_blue1)),
    (2, 1): ((b14_lo_zgray, b14_lo_zred, b14_lo_zblue), (b14_lo_ngray, b14_lo_nred, b14_lo_nblue),
             (b14_lo_gray2, b14_lo_gray1, b14_lo_red2, b14_lo_red1, b14_lo_blue2, b14_lo_blue1)),
    (0, 2): ((j02_hi_zgray, j02_hi_zred, j02_hi_zblue), (j02_hi_ngray, j02_hi_nred, j02_hi_nblue),
             (j02_hi_gray2, j02_hi_gray1, j02_hi_red2, j02_hi_red1, j02_hi_blue2, j02_hi_blue1)),
    (1, 2): ((j02_mid_zgray, j02_mid_zred, j02_mid_zblue), (j02_mid_ngray, j02_mid_nred, j02_mid_nblue),
             (j02_mid_gray2, j02_mid_gray1, j02_mid_red2, j02_mid_red1, j02_mid_blue2, j02_mid_blue1)),
    (2, 2): ((j02_lo_zgray, j02_lo_zred, j02_lo_zblue), (j02_lo_ngray, j02_lo_nred, j02_lo_nblue),
             (j02_lo_gray2, j02_lo_gray1, j02_lo_red2, j02_lo_red1, j02_lo_blue2, j02_lo_blue1)),
    (0, 3): ((j12_hi_zgray, j12_hi_zred, j12_hi_zblue), (j12_hi_ngray, j12_hi_nred, j12_hi_nblue),
             (j12_hi_gray2, j12_hi_gray1, j12_hi_red2, j12_hi_red1, j12_hi_blue2, j12_hi_blue1)),
    (1, 3): ((j12_mid_zgray, j12_mid_zred, j12_mid_zblue), (j12_mid_ngray, j12_mid_nred, j12_mid_nblue),
             (j12_mid_gray2, j12_mid_gray1, j12_mid_red2, j12_mid_red1, j12_mid_blue2, j12_mid_blue1)),
    (2, 3): ((j12_lo_zgray, j12_lo_zred, j12_lo_zblue), (j12_lo_ngray, j12_lo_nred, j12_lo_nblue),
             (j12_lo_gray2, j12_lo_gray1, j12_lo_red2, j12_lo_red1, j12_lo_blue2, j12_lo_blue1)),
}

# ---------------- layout (pixels: left, top, width, top-height, bottom-height) ----------------
W_PX, H_PX = 1576, 1126
boxes = {
    (0, 0): (207, 72, 141, 131, 133), (1, 0): (207, 424, 141, 132, 133), (2, 0): (212, 776, 141, 132, 133),
    (0, 1): (560, 74, 142, 124, 127), (1, 1): (560, 424, 142, 128, 126), (2, 1): (563, 776, 142, 128, 126),
    (0, 2): (912, 72, 141, 126, 128), (1, 2): (912, 424, 141, 128, 126), (2, 2): (917, 772, 141, 127, 128),
    (0, 3): (1265, 72, 141, 126, 127), (1, 3): (1264, 424, 142, 128, 126), (2, 3): (1268, 771, 141, 127, 127),
}
title_x = [278, 626, 978, 1327]
row_y = [222, 556, 915]

LINE_COLORS = ['#7a7a7a', '#e2301f', '#1570e6']
FILLS = [('#cccccc', 1.0, 'none'), ('#808080', 1.0, 'none'),
         ('#f4beb8', 1.0, '#ec8f86'), ('#e25446', 1.0, 'none'),
         ('#8fb2ee', 0.8, '#5b8fe0'), ('#1a62d6', 0.9, 'none')]
TICK_FS = 9.5
LABEL_FS = 10.5


def rect(left, top, w, h):
    return [left / W_PX, 1 - (top + h) / H_PX, w / W_PX, h / H_PX]


def xy(pts):
    return [p[0] for p in pts], [p[1] for p in pts]


fig = plt.figure(figsize=(W_PX / 100, H_PX / 100), dpi=100)

for (r, c), (zc, nc, regions) in cells.items():
    left, top, w, h1, h2 = boxes[(r, c)]
    zlim, nlim = z_lims[c], n_lims[r][c]
    ax_z = fig.add_axes(rect(left, top, w, h1))
    ax_c = fig.add_axes(rect(left, top + h1, w, h2))
    ax_n = fig.add_axes(rect(left + w, top + h1, w, h2))

    for pts, col in zip(zc, LINE_COLORS):
        ax_z.plot(*xy(pts), color=col, lw=1.8)
    for pts, col in zip(nc, LINE_COLORS):
        ax_n.plot(*xy(pts), color=col, lw=1.8)
    for k, (pts, (fc, al, ec)) in enumerate(zip(regions, FILLS)):
        xs, ys = xy(pts)
        ax_c.fill(xs, ys, facecolor=fc, alpha=al, edgecolor=ec, lw=0.7, zorder=1 + k * 0.1)

    ax_z.set_xlim(zlim)
    ax_z.set_ylim(0, 1.09)
    ax_z.set_yticks([])
    ax_z.set_xticks(z_ticks[c])
    ax_z.tick_params(axis='x', direction='in', length=4, labelbottom=False)

    ax_c.set_xlim(zlim)
    ax_c.set_ylim(nlim)
    ax_c.set_xticks(z_ticks[c])
    ax_c.set_xticklabels(z_ticklabels[c], rotation=45)
    ax_c.set_yticks(n_ticks[c])
    ax_c.set_yticklabels([str(t) for t in n_ticks[c]])
    ax_c.tick_params(direction='in', length=4, top=True, right=True, labelsize=TICK_FS)
    ax_c.set_xlabel('log$Z$', fontsize=LABEL_FS)
    ax_c.set_ylabel('log$n_{\\rm H}$', fontsize=LABEL_FS)

    ax_n.set_xlim(nlim)
    ax_n.set_ylim(0, 1.09)
    ax_n.set_yticks([])
    ax_n.set_xticks(n_ticks[c])
    ax_n.set_xticklabels([str(t) for t in n_ticks[c]], rotation=45)
    ax_n.tick_params(axis='x', direction='in', length=4, labelsize=TICK_FS)
    ax_n.set_xlabel('log$n_{\\rm H}$', fontsize=LABEL_FS)

    for a in (ax_z, ax_c, ax_n):
        for s in a.spines.values():
            s.set_linewidth(1.0)

    if r == 0:
        handles = [Patch(facecolor='#808080', edgecolor='#a8a8a8'),
                   Patch(facecolor='#e03a28', edgecolor='#f08a80'),
                   Patch(facecolor='#1a6fe6', edgecolor='#7aa8ee')]
        fig.legend(handles, legend_labels, loc='upper right',
                   bbox_to_anchor=((left + 2 * w) / W_PX, 1 - top / H_PX),
                   borderaxespad=0, fontsize=11.5, handlelength=2.0)

# overlay for titles, arrow and side labels (pixel coordinates)
ov = fig.add_axes([0, 0, 1, 1], zorder=-1)
ov.set_xlim(0, W_PX)
ov.set_ylim(H_PX, 0)
ov.axis('off')

for x, name in zip(title_x, galaxies):
    ov.text(x, 35, name, ha='center', va='center', fontsize=26,
            fontfamily='Liberation Serif', fontweight='bold')
for y, lab in zip(row_y, row_labels):
    ov.text(131, y, lab, rotation=90, ha='center', va='center', fontsize=26,
            fontfamily='Liberation Serif', fontweight='bold', math_fontfamily='stix')

ov.add_patch(FancyArrow(80, 1015, 0, -897, width=20, head_width=46, head_length=25,
                        length_includes_head=True, facecolor='#ffff00', edgecolor='black', lw=2))
ov.text(36, 582, side_text, rotation=90, ha='center', va='center', fontsize=27,
        fontfamily='Liberation Serif', fontweight='bold')

fig.savefig('out.png', dpi=100)
